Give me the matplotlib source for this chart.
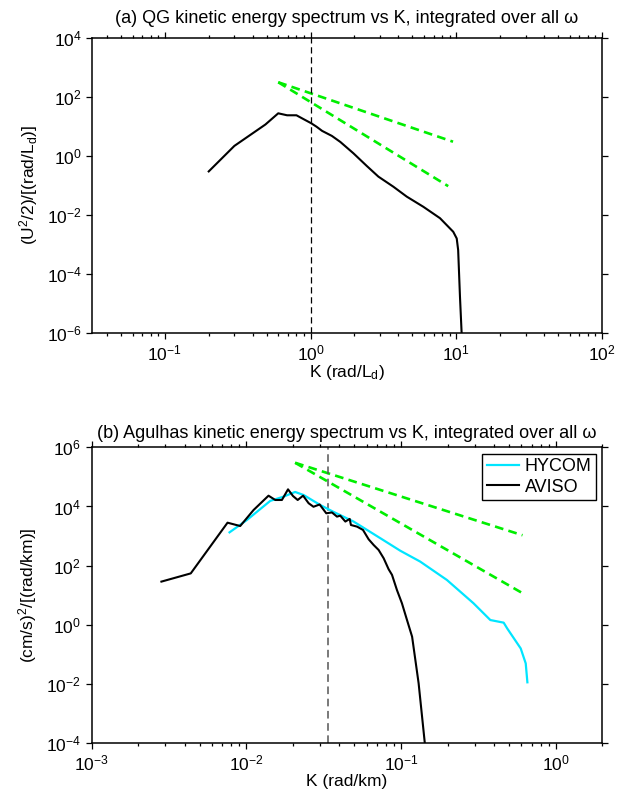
import matplotlib
matplotlib.use('Agg')
import matplotlib.pyplot as plt
from matplotlib.ticker import NullLocator, LogLocator

plt.rcParams['font.family'] = ['Liberation Sans', 'DejaVu Sans']
plt.rcParams['mathtext.fontset'] = 'custom'
plt.rcParams['mathtext.rm'] = 'Liberation Sans'
plt.rcParams['mathtext.it'] = 'Liberation Sans:italic'
plt.rcParams['mathtext.bf'] = 'Liberation Sans:bold'
plt.rcParams['mathtext.default'] = 'regular'

# ---------------- data: panel (a) QG ----------------
k_qg = [0.2, 0.3, 0.49, 0.6, 0.69, 0.8, 0.9, 1.01, 1.1, 1.2, 1.4, 1.6,
        1.97, 2.43, 2.92, 3.7, 4.57, 5.94, 7.73, 9.53, 10.07, 10.3, 10.6,
        10.95]
e_qg = [0.3, 2.2, 11.7, 28, 24, 24, 17.5, 12.9, 9.8, 7.1, 4.8, 3.0,
        1.23, 0.46, 0.2, 0.091, 0.042, 0.019, 0.0078, 0.0027, 0.0016,
        6.5e-4, 1.7e-5, 5e-7]
ref_k_qg = [0.6, 9.5]
ref53_qg = [316, 3.05]
ref_k3_qg = [0.6, 8.8]
ref3_qg = [316, 0.095]
kd_qg = 1.0

# ---------------- data: panel (b) Agulhas ----------------
k_hycom = [0.0078, 0.0101, 0.0143, 0.0174, 0.0207, 0.0235, 0.0301, 0.0366,
           0.0494, 0.0603, 0.0735, 0.099, 0.133, 0.198, 0.294, 0.378, 0.461,
           0.485, 0.594, 0.64, 0.656]
e_hycom = [1340, 3500, 15500, 21500, 31000, 24400, 11200, 6600, 3100, 1620,
           850, 320, 138, 33, 5.4, 1.46, 1.19, 0.77, 0.16, 0.05, 0.0115]

k_aviso = [0.00283, 0.00438, 0.00757, 0.00914, 0.01115, 0.01393, 0.0154,
           0.0170, 0.01862, 0.02005, 0.0215, 0.0233, 0.0253, 0.0272, 0.0298,
           0.0329, 0.0358, 0.0386, 0.0405, 0.0437, 0.0466, 0.0475, 0.052,
           0.0568, 0.0618, 0.0666, 0.0717, 0.0773, 0.0832, 0.0875, 0.0942,
           0.1014, 0.1093, 0.118, 0.13, 0.1426, 0.145]
e_aviso = [29, 55, 2840, 2190, 7600, 23200, 16600, 16600, 38000, 22600,
           16600, 23200, 12900, 9800, 11700, 5900, 6300, 4550, 4900, 3100,
           3800, 2370, 2090, 1620, 780, 500, 340, 178, 76, 49, 15, 5.4, 1.48,
           0.4, 0.0107, 1e-4, 5e-5]
ref_k_ag = [0.0207, 0.61]
ref53_ag = [3.0e5, 1070]
ref3_ag = [3.0e5, 11.8]
kd_ag = 0.034

W, H = 623, 796
fig = plt.figure(figsize=(W / 100, H / 100), dpi=100)
ax1 = fig.add_axes([92 / W, 1 - 333 / H, (602 - 92) / W, (333 - 38) / H])
ax2 = fig.add_axes([91.5 / W, 1 - 743.3 / H, (602.3 - 91.5) / W, (743.3 - 447.3) / H])

green = '#00ee00'
dash = (3.3, 2.0)
for ax in (ax1, ax2):
    ax.set_xscale('log')
    ax.set_yscale('log')
    for s in ax.spines.values():
        s.set_linewidth(1.1)
    ax.tick_params(which='both', direction='out', top=True, right=True,
                   labeltop=False, labelright=False, labelsize=12.5, width=0.9)
    ax.tick_params(which='major', length=4.5, pad=3)
    ax.tick_params(which='minor', length=2)
    ax.yaxis.set_minor_locator(NullLocator())
    ax.xaxis.set_minor_locator(LogLocator(base=10, subs=range(2, 10), numticks=20))

# ---- panel (a)
ax1.plot(ref_k_qg, ref53_qg, color=green, lw=1.9, dashes=dash)
ax1.plot(ref_k3_qg, ref3_qg, color=green, lw=1.9, dashes=dash)
ax1.axvline(kd_qg, color='black', lw=0.9, dashes=(5, 3))
ax1.plot(k_qg, e_qg, color='black', lw=1.5)
ax1.set_xlim(10 ** -1.5, 100)
ax1.set_ylim(1e-6, 1e4)
ax1.set_yticks([1e-6, 1e-4, 1e-2, 1e0, 1e2, 1e4])
ax1.set_xticks([1e-1, 1e0, 1e1, 1e2])
ax1.set_title('(a) QG kinetic energy spectrum vs K, integrated over all ω',
              fontsize=13, pad=10.5)
ax1.set_xlabel('K (rad/L$_d$)', fontsize=12.5, labelpad=0)
ax1.set_ylabel('(U$^2$/2)/[(rad/L$_d$)]', fontsize=12.5, labelpad=5)

# ---- panel (b)
ax2.plot(ref_k_ag, ref53_ag, color=green, lw=1.9, dashes=dash)
ax2.plot(ref_k_ag, ref3_ag, color=green, lw=1.9, dashes=dash)
ax2.axvline(kd_ag, color='#555555', lw=1.1, dashes=(5, 3))
ax2.plot(k_hycom, e_hycom, color='#00e5ff', lw=1.6, label='HYCOM')
ax2.plot(k_aviso, e_aviso, color='black', lw=1.5, label='AVISO')
ax2.set_xlim(1e-3, 2)
ax2.set_ylim(1e-4, 1e6)
ax2.set_yticks([1e-4, 1e-2, 1e0, 1e2, 1e4, 1e6])
ax2.set_xticks([1e-3, 1e-2, 1e-1, 1e0])
ax2.set_title('(b) Agulhas kinetic energy spectrum vs K, integrated over all ω',
              fontsize=13, pad=6.5)
ax2.set_xlabel('K (rad/km)', fontsize=12.5, labelpad=0)
ax2.set_ylabel('(cm/s)$^2$/[(rad/km)]', fontsize=12.5, labelpad=5)
leg = ax2.legend(loc='upper right', fontsize=13, frameon=True, fancybox=False,
                 edgecolor='black', framealpha=1, borderaxespad=0.35,
                 handlelength=1.8, handletextpad=0.3, labelspacing=0.2,
                 borderpad=0.25)
leg.get_frame().set_linewidth(1.0)

fig.savefig('out.png', dpi=100)
